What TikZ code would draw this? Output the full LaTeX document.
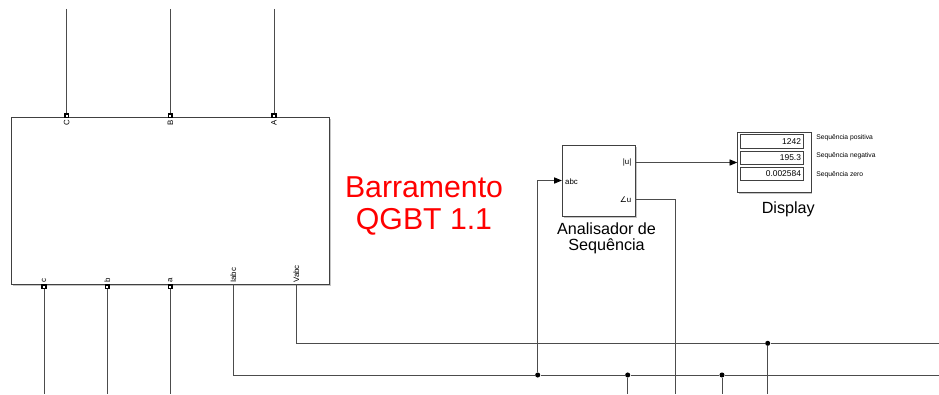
\documentclass[tikz,border=0pt]{standalone}
\usepackage{fontspec}
\setmainfont{Liberation Sans}
\newfontfamily\symfont{DejaVu Sans}
\usetikzlibrary{arrows.meta,shadows}
\begin{document}
\begin{tikzpicture}[
        x=0.025cm, y=-0.025cm,
        block/.style={rectangle, draw=black!75, line width=0.6pt, fill=white, drop shadow={shadow xshift=1.1pt, shadow yshift=-1.1pt, fill=black!45}},
        port/.style={rectangle, draw=black, fill=white, line width=1pt, minimum size=2.6pt, inner sep=0pt},
        plabel/.style={font=\fontsize{5.6}{6}\selectfont, inner sep=1pt},
        field/.style={rectangle, draw=black!75, line width=0.5pt, fill=white, text width=1.46cm, minimum height=0.33cm, inner sep=1.5pt, align=right, font=\fontsize{6}{7}\selectfont},
        tag/.style={font=\fontsize{4.8}{5}\selectfont, inner sep=0pt, anchor=west},
        caption/.style={font=\fontsize{11.5}{11.5}\selectfont, align=center, inner sep=0pt, anchor=north},
        dot/.style={circle, fill=black, minimum size=3.6pt, inner sep=0pt},
        wire/.style={draw=black!70, line width=0.6pt},
        sig/.style={wire, -{Triangle[length=5.5pt, width=4.4pt, color=black]}}
      ]
      \useasboundingbox (0,0) rectangle (939,394);
      \node[block, minimum width=7.94cm, minimum height=4.175cm] (bus) at (170.5,200.8) {};
      \node[port] (pC) at (66.7,115.7) {};
      \node[port] (pB) at (170.3,115.7) {};
      \node[port] (pA) at (274,115.7) {};
      \node[port] (pc) at (44,286.7) {};
      \node[port] (pb) at (107.3,286.7) {};
      \node[port] (pa) at (170.3,286.7) {};
      \coordinate (iabc) at (233.3,284.3);
      \coordinate (vabc) at (296.3,284.3);
      \node[plabel, rotate=90, anchor=east] (lC) at (pC.south) {C};
      \node[plabel, rotate=90, anchor=east] (lB) at (pB.south) {B};
      \node[plabel, rotate=90, anchor=east] (lA) at (pA.south) {A};
      \node[plabel, rotate=90, anchor=west] (lc) at (pc.north) {c};
      \node[plabel, rotate=90, anchor=west] (lb) at (pb.north) {b};
      \node[plabel, rotate=90, anchor=west] (la) at (pa.north) {a};
      \node[plabel, rotate=90, anchor=west] (li) at (iabc) {Iabc};
      \node[plabel, rotate=90, anchor=west] (lv) at (vabc) {Vabc};
      \node[font=\fontsize{21.5}{22.7}\selectfont, text=red, align=center, inner sep=0pt, anchor=north] (name) at (424,176) {Barramento\\QGBT 1.1};
      \node[block, minimum width=1.82cm, minimum height=1.775cm] (seq) at (598.7,180.5) {};
      \node[plabel, anchor=west] (labc) at (563.5,181.7) {abc};
      \node[plabel, anchor=east] (lmag) at (633,162.7) {|u|};
      \node[plabel, anchor=east] (lang) at (633,199.3) {{\symfont ∠}u};
      \node[caption] (seqname) at (606.5,222) {Analisador de\\Sequência};
      \node[block, minimum width=1.83cm, minimum height=1.51cm] (disp) at (774.3,162.5) {};
      \node[field] (f1) at (771.8,141.3) {1242};
      \node[field] (f2) at (771.8,157.5) {195.3};
      \node[field] (f3) at (771.8,173.8) {0.002584};
      \node[tag] (t1) at (816,137.5) {Sequência positiva};
      \node[tag] (t2) at (816,156) {Sequência negativa};
      \node[tag] (t3) at (816,174.5) {Sequência zero};
      \node[caption] (dispname) at (788.3,201.5) {Display};
      \node[dot] (j1) at (537.7,375) {};
      \node[dot] (j2) at (627.7,375) {};
      \node[dot] (j3) at (722,375) {};
      \node[dot] (j4) at (767.7,343.3) {};
      \coordinate (tC) at (66.7,9);
      \coordinate (tB) at (170.3,9);
      \coordinate (tA) at (274,9);
      \coordinate (bc) at (44,394);
      \coordinate (bb) at (107.3,394);
      \coordinate (ba) at (170.3,394);
      \coordinate (iend) at (939,375);
      \coordinate (vend) at (939,343.3);
      \coordinate (d2) at (627.7,394);
      \coordinate (d3) at (722,394);
      \coordinate (d4) at (767.7,394);
      \coordinate (angout) at (635,199.3);
      \coordinate (angend) at (675.7,394);
      \draw[wire] (tC) -- (pC);
      \draw[wire] (tB) -- (pB);
      \draw[wire] (tA) -- (pA);
      \draw[wire] (pc) -- (bc);
      \draw[wire] (pb) -- (bb);
      \draw[wire] (pa) -- (ba);
      \draw[wire] (iabc) |- (j1);
      \draw[wire] (j1) -- (j2);
      \draw[wire] (j2) -- (j3);
      \draw[wire] (j3) -- (iend);
      \draw[wire] (vabc) |- (j4);
      \draw[wire] (j4) -- (vend);
      \draw[wire] (j2) -- (d2);
      \draw[wire] (j3) -- (d3);
      \draw[wire] (j4) -- (d4);
      \draw[sig] (j1) |- (seq.west);
      \draw[sig] (seq.east |- disp.west) -- (disp.west);
      \draw[wire] (angout) -| (angend);
    \end{tikzpicture}
\end{document}
